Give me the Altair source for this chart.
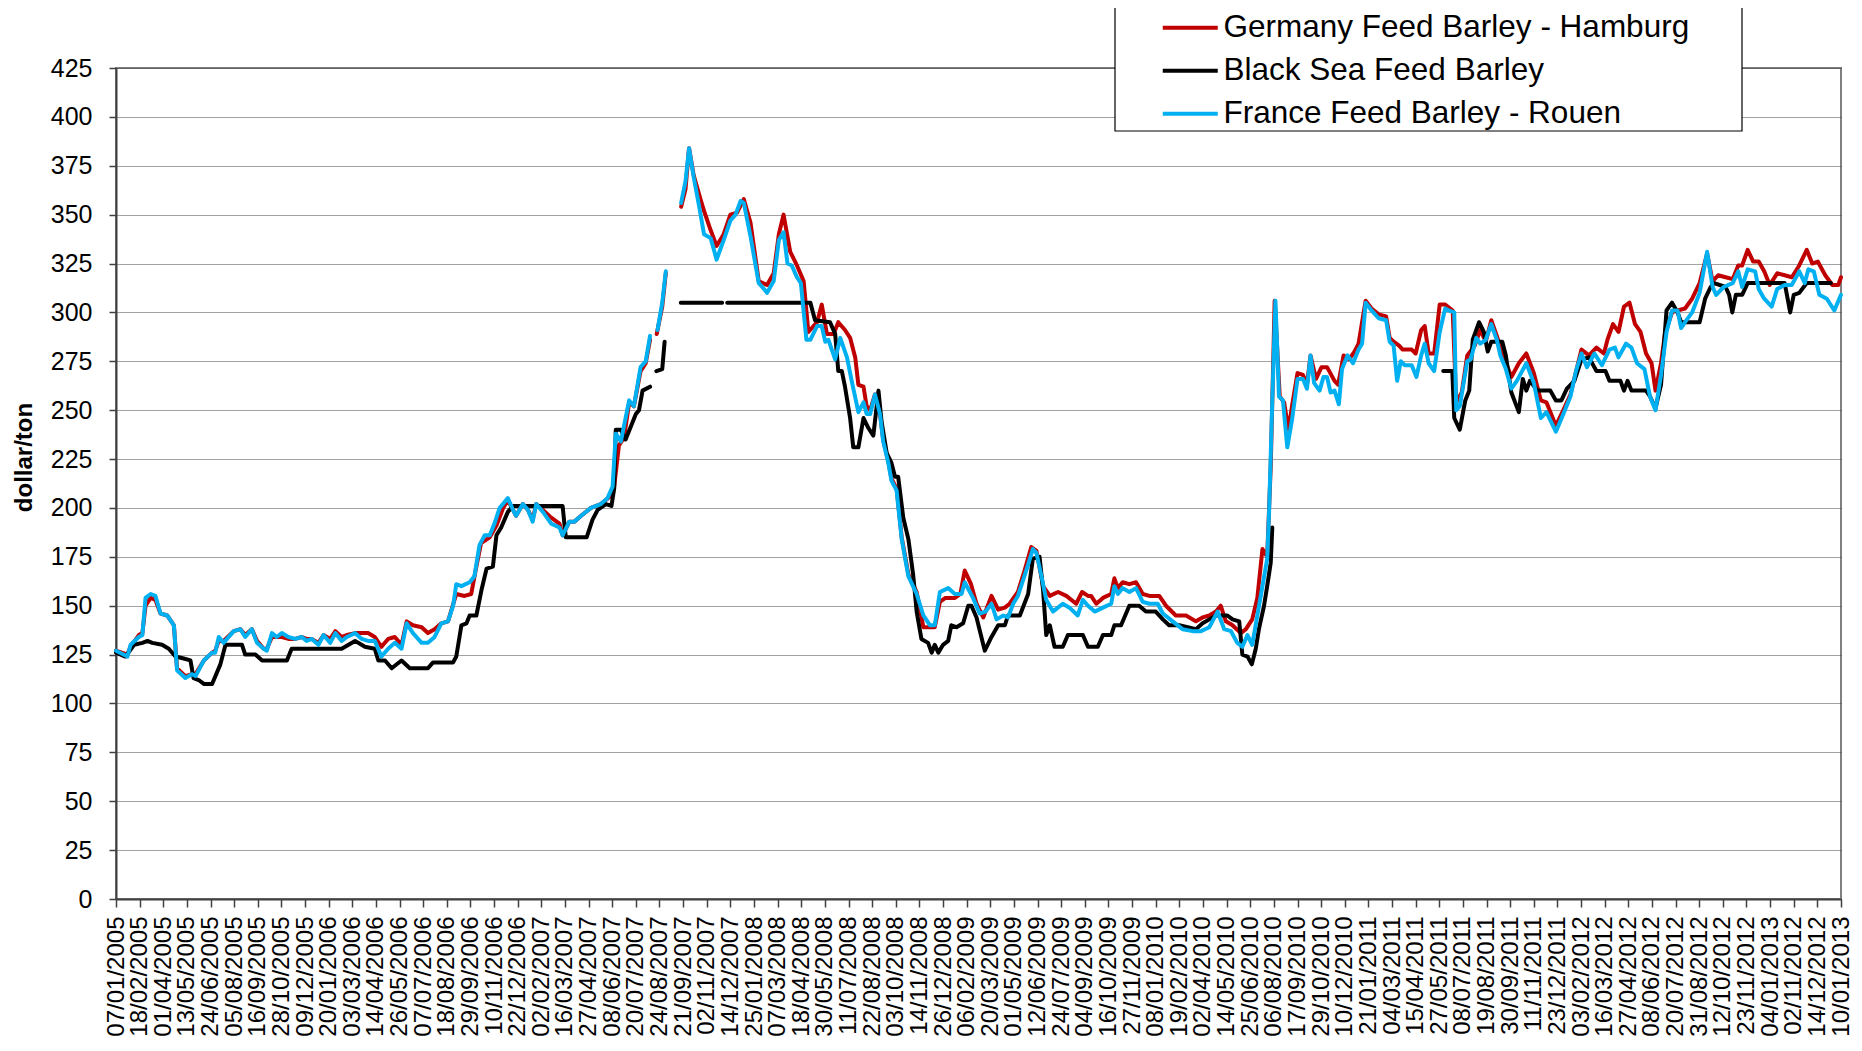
import altair as alt
import pandas as pd

FONT = "Liberation Sans"

week_labels = [
    "07/01/2005", "18/02/2005", "01/04/2005", "13/05/2005", "24/06/2005", "05/08/2005",
    "16/09/2005", "28/10/2005", "09/12/2005", "20/01/2006", "03/03/2006", "14/04/2006",
    "26/05/2006", "07/07/2006", "18/08/2006", "29/09/2006", "10/11/2006", "22/12/2006",
    "02/02/2007", "16/03/2007", "27/04/2007", "08/06/2007", "20/07/2007", "24/08/2007",
    "21/09/2007", "02/11/2007", "14/12/2007", "25/01/2008", "07/03/2008", "18/04/2008",
    "30/05/2008", "11/07/2008", "22/08/2008", "03/10/2008", "14/11/2008", "26/12/2008",
    "06/02/2009", "20/03/2009", "01/05/2009", "12/06/2009", "24/07/2009", "04/09/2009",
    "16/10/2009", "27/11/2009", "08/01/2010", "19/02/2010", "02/04/2010", "14/05/2010",
    "25/06/2010", "06/08/2010", "17/09/2010", "29/10/2010", "10/12/2010", "21/01/2011",
    "04/03/2011", "15/04/2011", "27/05/2011", "08/07/2011", "19/08/2011", "30/09/2011",
    "11/11/2011", "23/12/2011", "03/02/2012", "16/03/2012", "27/04/2012", "08/06/2012",
    "20/07/2012", "31/08/2012", "12/10/2012", "23/11/2012", "04/01/2013", "02/11/2012",
    "14/12/2012", "10/01/2013",
]

# [week index, dollar/ton]; None marks a gap in the series
germany = [
    [0, 127], [2.9, 125], [3.7, 129], [5.8, 135], [6.7, 136], [7.5, 150], [8.8, 154], [10, 153],
    [11.3, 146], [13, 145], [14.7, 140], [15.5, 118], [17.6, 114], [19.3, 115], [20.2, 115],
    [22.3, 122], [24.4, 126], [25.2, 127], [26.1, 132], [27.3, 132], [29.9, 137], [31.6, 138],
    [32.8, 135], [34.5, 138], [35.8, 132], [37.5, 128], [38.3, 128], [39.6, 134], [40.8, 134],
    [42.1, 134], [43.8, 133], [45.5, 133], [47.2, 134], [48.4, 133], [49.7, 133], [51.4, 131],
    [52.7, 135], [54.4, 133], [55.7, 137], [57.3, 134], [58.6, 135], [60.7, 136], [62.4, 136],
    [64, 136], [65.7, 134], [67.4, 129], [69.1, 133], [70.8, 134], [72.5, 130], [73.8, 142],
    [75.4, 140], [77.6, 139], [79.2, 136], [80.9, 138], [82.6, 141], [84.3, 142], [86.4, 156],
    [88.5, 155], [90.2, 156], [91.4, 169], [92.7, 182], [94.9, 185], [96.6, 191], [98.3, 200],
    [99.5, 204], [100.8, 199], [101.6, 196], [103.3, 202], [104.6, 199], [105.8, 194],
    [106.7, 202], [108.4, 199], [110.5, 195], [112.6, 192], [113.4, 186], [115.1, 193],
    [116.4, 193], [118.1, 196], [120.6, 200], [123.1, 202], [125.6, 206], [126.5, 211],
    [127.7, 232], [129, 236], [130.3, 254], [131.5, 252], [133.2, 270], [134.5, 274],
    [135.6, 286], [136.5, None], [137.3, 289], [138.7, 303], [139.6, 320], [141.5, None],
    [143.5, 354], [144.6, 363], [145.5, 384], [146.7, 370], [148.4, 358], [149.3, 352],
    [151, 342], [152.5, 334], [154.3, 340], [156, 350], [157.7, 351], [159.4, 358],
    [161.1, 346], [163.2, 316], [165.3, 314], [167, 320], [168.3, 340], [169.5, 350],
    [171.2, 331], [172.9, 324], [174.6, 316], [175.8, 290], [178, 295], [179.2, 304],
    [180.5, 289], [182.2, 289], [183.4, 295], [185.1, 291], [186.4, 287], [187.7, 277],
    [188.5, 263], [189.8, 262], [190.6, 252], [191.5, 250], [192.7, 258], [194, 248],
    [194.8, 235], [196.1, 224], [196.9, 215], [198.2, 210], [199.5, 185], [201.2, 166],
    [203.3, 157], [205, 139], [206.7, 139], [207.9, 139], [209.2, 152], [210.6, 154],
    [213, 154], [214.4, 156], [215.5, 168], [217.1, 161], [218.5, 151], [220.2, 144],
    [222.3, 155], [224, 148], [225.7, 149], [226.9, 151], [229, 157], [230.7, 168],
    [232.4, 180], [233.7, 178], [235.4, 160], [237.1, 155], [239.2, 157], [241.3, 155],
    [243.8, 151], [245.3, 157], [246.8, 155], [247.6, 155], [248.9, 151], [250.6, 154],
    [252.7, 156], [253.5, 164], [254.4, 159], [255.6, 162], [257.3, 161], [259, 162],
    [260.7, 156], [262.4, 155], [264.9, 155], [266.6, 150], [269.1, 145], [271.7, 145],
    [274.2, 142], [275.9, 144], [277.6, 145], [279.3, 147], [280.5, 150], [281.8, 142],
    [283.5, 140], [285.6, 136], [286.9, 138], [288.5, 143], [289.8, 154], [291.1, 179],
    [292.3, 175], [293.2, 221], [294.2, 306], [295.5, 257], [296.6, 254], [297.7, 240],
    [298.6, 252], [300, 269], [301.4, 268], [302.4, 263], [303.3, 278], [304.7, 266],
    [306.1, 272], [307.5, 272], [309.4, 265], [310.3, 263], [311.7, 278], [313.1, 276],
    [314.5, 280], [315.5, 284], [317.3, 306], [318.8, 302], [320.6, 299], [322.5, 298],
    [323.4, 287], [324.4, 285], [325.8, 283], [326.7, 281], [329, 281], [330, 279],
    [331.4, 291], [332.3, 293], [333.3, 279], [334.7, 279], [336.1, 304], [337.5, 304],
    [339.4, 301], [340.3, 254], [341.7, 259], [343.1, 278], [345, 283], [346.4, 291],
    [347.8, 285], [349.2, 296], [350.6, 288], [352, 279], [354.3, 267], [356.2, 274],
    [358.1, 279], [360, 269], [361.8, 255], [363.2, 254], [365.6, 242], [367.5, 250],
    [369.3, 258], [372.1, 281], [374, 278], [375.9, 282], [377.8, 279], [378.7, 286],
    [380.1, 294], [381.5, 290], [382.9, 303], [384.3, 305], [385.7, 294], [387.1, 290],
    [388.5, 279], [389.9, 274], [390.9, 260], [392.3, 274], [393.3, 289], [395.1, 300],
    [396.5, 301], [398.4, 302], [400.2, 307], [402.1, 315], [404, 330], [405.4, 316],
    [406.8, 319], [408.7, 318], [410.5, 317], [411.9, 324], [412.9, 324], [414.3, 332],
    [415.7, 326], [417.1, 326], [418.5, 321], [419.9, 314], [421.8, 320], [423.7, 319],
    [425.5, 318], [427.4, 324], [429.3, 332], [430.7, 325], [432.1, 326], [434, 319],
    [435.8, 314], [437.3, 314], [438, 318],
]

black_sea = [
    [0, 126], [2.4, 124], [4.6, 130], [6.7, 131], [8, 132], [9.2, 131], [11.7, 130], [13.4, 128],
    [15.1, 124], [17.2, 123], [18.9, 122], [19.7, 113], [21, 112], [22.3, 110], [24.4, 110],
    [26.5, 120], [27.8, 130], [32, 130], [32.8, 125], [35.4, 125], [37.1, 122], [43.4, 122],
    [44.6, 128], [57.3, 128], [60.7, 132], [63.2, 129], [65.7, 128], [66.6, 122], [68.3, 122],
    [70, 118], [72.5, 122], [74.6, 118], [79.2, 118], [80.5, 121], [85.6, 121], [86.4, 124],
    [87.7, 140], [89, 141], [89.8, 145], [91.5, 145], [92.8, 158], [94.1, 169], [95.7, 170],
    [96.6, 186], [97.8, 190], [99.5, 198], [100.8, 201], [113.4, 201], [114.2, 185],
    [119.5, 185], [121, 194], [122.3, 199], [124.4, 202], [125.8, 201], [126.5, 210],
    [126.9, 240], [128.2, 240], [129.4, 235], [132, 248], [132.8, 250], [133.7, 260],
    [135.6, 262], [136.5, None], [137.2, 270], [138.7, 271], [139.3, 285], [141.3, None],
    [143.4, 305], [153.9, 305], [154.5, None], [155.2, 305], [176.3, 305], [177.5, 296],
    [181.3, 295], [182.6, 289], [183.4, 270], [184.3, 270], [185.1, 262], [186.4, 246],
    [187.2, 231], [188.5, 231], [189.8, 246], [191, 241], [192.3, 237], [193.6, 260],
    [194.4, 244], [195.7, 228], [196.9, 223], [197.8, 216], [198.6, 216], [199.9, 195],
    [201.2, 184], [202.4, 166], [203.3, 147], [204.5, 133], [206.2, 131], [207.1, 126],
    [207.9, 130], [208.8, 126], [210, 130], [211.3, 132], [212.1, 140], [213.4, 139],
    [215.1, 141], [216.4, 150], [217.2, 150], [218.5, 144], [220.6, 127], [222.3, 134],
    [224, 140], [225.7, 140], [226.5, 145], [229.5, 145], [231.6, 156], [232.8, 174],
    [234.5, 175], [235.4, 158], [236.2, 135], [237.1, 140], [238.3, 129], [240.4, 129],
    [241.7, 135], [245.5, 135], [246.8, 129], [249.3, 129], [250.6, 135], [252.7, 135],
    [253.5, 140], [255.2, 140], [257.3, 150], [259.8, 150], [261.5, 147], [264, 147],
    [265.8, 143], [267.4, 140], [270, 140], [274.2, 138], [275.9, 141], [277.6, 143],
    [279.3, 145], [282.2, 145], [283.5, 143], [285.2, 142], [286, 125], [287.3, 124],
    [288.4, 120], [289.4, 128], [290.2, 138], [291.5, 150], [292.3, 160], [293.2, 172],
    [293.6, 190], [300, None], [337, 270], [339.3, 270], [339.8, 246], [341.2, 240],
    [342.6, 255], [343.6, 260], [344.5, 286], [346.1, 295], [347.3, 290], [348.3, 280],
    [349.2, 285], [352, 285], [352.9, 278], [354.3, 259], [356.2, 249], [357.2, 266],
    [358.1, 260], [359, 265], [360.9, 260], [364.2, 260], [365.6, 255], [367, 255],
    [368.4, 261], [370.3, 265], [372.1, 276], [374, 277], [375.9, 270], [378.2, 270],
    [379.2, 265], [382, 265], [382.9, 260], [383.8, 265], [384.8, 260], [388.5, 260],
    [389.5, 257], [390.9, 251], [392.3, 263], [393.7, 301], [395.1, 305], [396.5, 300],
    [397.4, 295], [402.1, 295], [403.5, 307], [404.9, 313], [405.8, 315], [408.7, 313],
    [409.6, 309], [410.4, 300], [411.3, 309], [412.9, 309], [414.3, 315], [423.7, 315],
    [425.1, 300], [426, 309], [427.4, 310], [429.3, 315], [435.4, 315],
]

france = [
    [0, 127], [2.9, 124], [3.7, 130], [5.8, 134], [6.7, 135], [7.5, 154], [8.8, 156], [10, 155],
    [11.3, 146], [13, 145], [14.7, 140], [15.5, 117], [17.6, 113], [19.3, 115], [20.2, 114],
    [22.3, 122], [24.4, 126], [25.2, 126], [26.1, 134], [27.3, 131], [29.9, 137], [31.6, 138],
    [32.8, 134], [34.5, 138], [35.8, 131], [37.5, 128], [38.3, 127], [39.6, 136], [40.8, 134],
    [42.1, 136], [43.8, 134], [45.5, 133], [47.2, 134], [48.4, 132], [49.7, 133], [51.4, 130],
    [52.7, 135], [54.4, 131], [55.7, 136], [57.3, 132], [58.6, 134], [60.7, 136], [62.4, 133],
    [64, 132], [65.7, 132], [67.4, 124], [69.1, 128], [70.8, 131], [72.5, 128], [73.8, 141],
    [75.4, 136], [77.6, 131], [79.2, 131], [80.9, 134], [82.6, 141], [84.3, 142], [85.6, 150],
    [86.4, 161], [87.7, 160], [89.8, 162], [91, 165], [92.3, 181], [93.6, 186], [94.9, 186],
    [96.1, 192], [97.4, 200], [99.5, 205], [100.8, 199], [101.6, 196], [103.3, 202],
    [104.6, 199], [105.8, 193], [106.7, 202], [108.4, 198], [110.5, 192], [112.6, 190],
    [113.4, 186], [115.1, 193], [116.4, 193], [118.1, 196], [120.6, 200], [123.1, 202],
    [124.8, 205], [126.1, 211], [126.9, 238], [128.2, 234], [130.3, 255], [131.5, 252],
    [133.2, 272], [134.5, 275], [135.6, 288], [136.5, None], [137.5, 291], [138.7, 305],
    [139.6, 321], [141.5, None], [143.5, 356], [144.6, 367], [145.5, 384], [146.7, 369],
    [148, 355], [149.3, 340], [151, 338], [152.5, 327], [154.3, 337], [156, 347], [157.3, 350],
    [158.6, 357], [159.4, 356], [161.1, 339], [163.2, 315], [164.1, 313], [165.3, 310],
    [167, 316], [168.3, 337], [169.5, 341], [170.5, 325], [171.6, 324], [172.9, 318],
    [173.9, 315], [175.3, 286], [176.3, 286], [178, 293], [179.2, 293], [180.1, 285],
    [180.9, 286], [182.6, 276], [183.9, 287], [185.6, 277], [186.8, 265], [188.5, 249],
    [189.8, 254], [190.6, 248], [191.5, 248], [192.7, 258], [194, 248], [194.8, 234],
    [196.1, 223], [196.9, 214], [198.2, 209], [199.5, 184], [201.2, 165], [203.3, 156],
    [205, 145], [206.7, 140], [207.9, 140], [209.2, 157], [211.3, 159], [213, 156],
    [214.7, 156], [215.5, 162], [217.6, 154], [219.3, 146], [220.8, 147], [222.3, 151],
    [223.6, 143], [225.3, 145], [226.5, 144], [227.8, 151], [229, 155], [230.3, 163],
    [231.6, 171], [232.8, 179], [233.7, 177], [235, 165], [236.2, 153], [237.9, 147],
    [240.4, 151], [242.1, 149], [244.2, 145], [245.5, 153], [246.8, 150], [248.5, 147],
    [250.6, 149], [252.7, 151], [253.5, 160], [254.4, 156], [255.6, 159], [257.3, 157],
    [259, 159], [260.7, 152], [262.4, 151], [264.5, 151], [265.8, 146], [268.3, 142],
    [270.8, 138], [273.4, 137], [275.5, 137], [277.6, 139], [279.7, 147], [281.4, 138],
    [283.1, 137], [284.7, 131], [286, 129], [287.3, 135], [288.5, 130], [289.8, 145],
    [291.1, 160], [292.3, 174], [292.8, 199], [293.6, 255], [294.4, 306], [295.3, 257],
    [296.3, 255], [297.4, 231], [298.6, 245], [300, 266], [301.4, 266], [302.4, 261],
    [303.3, 278], [304.2, 264], [305.6, 260], [306.6, 267], [307.5, 267], [308.4, 259],
    [309.4, 260], [310.5, 253], [311.3, 271], [312.7, 278], [314.1, 274], [315.5, 281],
    [316.4, 284], [317.3, 305], [318.8, 301], [320.6, 297], [322.5, 296], [323.4, 285],
    [324.4, 283], [325.3, 265], [326.2, 275], [327.2, 273], [329, 273], [330.2, 267],
    [331.4, 278], [332.3, 284], [333.3, 274], [334.7, 270], [336.1, 290], [337.5, 302],
    [338.4, 301], [339.8, 300], [340.3, 250], [341.2, 252], [343.1, 275], [344, 276],
    [345.4, 287], [346.4, 284], [347.8, 286], [349.2, 294], [350.6, 286], [351.5, 278],
    [352.9, 271], [354.3, 261], [355.7, 265], [358.1, 274], [360, 264], [361.8, 246],
    [363.2, 249], [365.6, 239], [367.5, 248], [369.3, 257], [370.7, 270], [372.1, 279],
    [373.5, 272], [375.4, 279], [377.3, 273], [379.2, 281], [380.6, 282], [381.5, 277],
    [383.4, 284], [384.8, 282], [386.2, 274], [388.1, 271], [389.5, 257], [390.9, 250],
    [392.3, 268], [393.7, 290], [395.1, 301], [396.5, 301], [397.4, 292], [398.4, 295],
    [400.2, 300], [402.1, 310], [404, 331], [405.4, 313], [406.3, 309], [408.2, 313],
    [410.5, 315], [411.9, 321], [412.9, 313], [414.3, 322], [416.2, 321], [417.1, 312],
    [418.5, 307], [420.4, 303], [421.8, 312], [423.7, 314], [425.5, 314], [427.4, 321],
    [428.8, 315], [429.7, 322], [431.1, 321], [432.5, 309], [434.4, 307], [436.3, 301],
    [438, 309],
]

series_names = ["Germany Feed Barley - Hamburg", "Black Sea Feed Barley", "France Feed Barley - Rouen"]
series_colors = ["#C00000", "#000000", "#00B0F0"]

rows = []
for name, pts in zip(series_names, [germany, black_sea, france]):
    for w, v in pts:
        rows.append({"week": w, "price": v, "series": name})
df = pd.DataFrame(rows)

label_expr = "[" + ",".join("'%s'" % s for s in week_labels) + "][round(datum.value / 6)]"

x_enc = alt.X(
    "week:Q",
    scale=alt.Scale(domain=[0, 438], nice=False, zero=False),
    axis=alt.Axis(
        values=list(range(0, 439, 6)), labelExpr=label_expr, labelAngle=270,
        labelFontSize=24, labelFont=FONT, labelColor="black", labelOverlap=False,
        labelFlush=False, labelPadding=9, tickSize=8, grid=False, title=None,
    ),
)
y_enc = alt.Y(
    "price:Q",
    scale=alt.Scale(domain=[0, 425], nice=False, zero=True),
    axis=alt.Axis(
        values=list(range(0, 426, 25)), labelFontSize=25, labelFont=FONT, labelColor="black",
        labelPadding=17, tickSize=7, grid=True, gridColor="#444444", gridDash=[1, 1],
        gridWidth=1, labelOverlap=False, labelFlush=False,
        title="dollar/ton", titleFont=FONT, titleFontSize=24, titleFontWeight="bold",
        titleColor="black", titleAngle=270, titleX=-92, titleY=389,
        titleAlign="center", titleBaseline="middle",
    ),
)
color_enc = alt.Color(
    "series:N",
    scale=alt.Scale(domain=series_names, range=series_colors),
    legend=alt.Legend(
        title=None, orient="none", legendX=1046, legendY=-56, direction="vertical",
        symbolType="M-1.5,0H4", symbolSize=400, symbolStrokeWidth=4,
        labelFontSize=31.5, labelFont=FONT, labelColor="black", labelOffset=30,
        rowPadding=10, padding=0, symbolOffset=0, labelLimit=800,
    ),
)

frame = alt.Chart(pd.DataFrame({"k": [0]})).mark_rect(
    fill="white", stroke="black", strokeWidth=1.2
).encode(x=alt.value(999), x2=alt.value(1626), y=alt.value(-62), y2=alt.value(63))

layers = [frame]
for name in series_names:
    layers.append(
        alt.Chart(df)
        .transform_filter(alt.datum.series == name)
        .mark_line(strokeWidth=4, strokeCap="round", strokeJoin="round",
                   invalid="break-paths-filter-domains")
        .encode(x=x_enc, y=y_enc, color=color_enc)
    )

chart = (
    alt.layer(*layers)
    .properties(
        width=1725, height=831,
        padding={"left": 108, "top": 60, "right": 13, "bottom": 144},
        autosize=alt.AutoSizeParams(type="none"),
        background="white",
    )
    .configure_view(stroke="#808080", strokeWidth=2)
    .configure_axis(domainColor="#404040", domainWidth=2, tickColor="#404040", tickWidth=1.5)
)

chart.save("out.html", embed_options={"renderer": "svg", "actions": False})
